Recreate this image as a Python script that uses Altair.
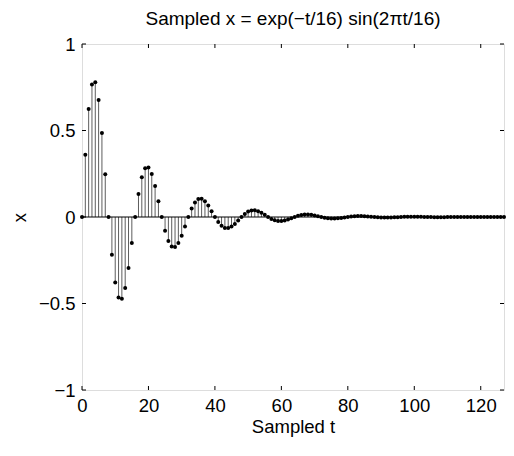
import altair as alt
import pandas as pd

# Sample index t = 0..127
t_values = list(range(128))

x_values = [
    0.0, 0.3595, 0.6240, 0.7659, 0.7788, 0.6759, 0.4860, 0.2471,
    0.0, -0.2180, -0.3785, -0.4646, -0.4724, -0.4100, -0.2948, -0.1499,
    0.0, 0.1323, 0.2296, 0.2818, 0.2865, 0.2487, 0.1788, 0.0909,
    0.0, -0.0802, -0.1392, -0.1709, -0.1738, -0.1508, -0.1085, -0.0551,
    0.0, 0.0487, 0.0844, 0.1037, 0.1054, 0.0915, 0.0658, 0.0334,
    0.0, -0.0295, -0.0512, -0.0629, -0.0639, -0.0555, -0.0399, -0.0203,
    0.0, 0.0179, 0.0311, 0.0381, 0.0388, 0.0337, 0.0242, 0.0123,
    0.0, -0.0109, -0.0188, -0.0231, -0.0235, -0.0204, -0.0147, -0.0075,
    0.0, 0.0066, 0.0114, 0.0140, 0.0143, 0.0124, 0.0089, 0.0045,
    0.0, -0.0040, -0.0069, -0.0085, -0.0087, -0.0075, -0.0054, -0.0028,
    0.0, 0.0024, 0.0042, 0.0052, 0.0053, 0.0046, 0.0033, 0.0017,
    0.0, -0.0015, -0.0026, -0.0031, -0.0032, -0.0028, -0.0020, -0.0010,
    0.0, 0.0009, 0.0016, 0.0019, 0.0019, 0.0017, 0.0012, 0.0006,
    0.0, -0.0005, -0.0009, -0.0012, -0.0012, -0.0010, -0.0007, -0.0004,
    0.0, 0.0003, 0.0006, 0.0007, 0.0007, 0.0006, 0.0004, 0.0002,
    0.0, -0.0002, -0.0004, -0.0004, -0.0004, -0.0004, -0.0003, -0.0001,
]

x_ticks = [0, 20, 40, 60, 80, 100, 120]
y_ticks = [-1, -0.5, 0, 0.5, 1]
x_domain = [0, 127]
y_domain = [-1, 1]

W, H = 422, 346
FONT = "Liberation Sans"
FS = 18.5
TL = 4  # inward tick length

df = pd.DataFrame({"t": t_values, "x": x_values})
xt = pd.DataFrame({"v": x_ticks})
yt = pd.DataFrame({"v": y_ticks})
base_line = pd.DataFrame({"a": [x_domain[0]], "b": [x_domain[1]], "z": [0]})

label_expr = "replace(toString(datum.value), '-', '\u2212')"

xscale = alt.Scale(domain=x_domain, nice=False, zero=False)
yscale = alt.Scale(domain=y_domain, nice=False, zero=False)

xaxis = alt.Axis(values=x_ticks, ticks=False, tickSize=0, domain=False, grid=False,
                 labelExpr=label_expr, labelPadding=6, labelFont=FONT, labelFontSize=FS,
                 labelColor="black", title="Sampled t", titleFont=FONT, titleFontSize=FS,
                 titleFontWeight="normal", titleColor="black", titlePadding=3,
                 labelFlush=False, labelOverlap=False)
yaxis = alt.Axis(values=y_ticks, ticks=False, tickSize=0, domain=False, grid=False,
                 labelExpr=label_expr, labelPadding=7, labelFont=FONT, labelFontSize=FS,
                 labelColor="black", title="x", titleFont=FONT, titleFontSize=FS,
                 titleFontWeight="normal", titleColor="black", titlePadding=9,
                 labelFlush=False, labelOverlap=False)

stems = alt.Chart(df).mark_rule(color="#333333", strokeWidth=0.8).encode(
    x=alt.X("t:Q", scale=xscale, axis=xaxis),
    y=alt.Y("x:Q", scale=yscale, axis=yaxis),
    y2=alt.datum(0),
)

baseline = alt.Chart(base_line).mark_rule(color="black", strokeWidth=1).encode(
    x=alt.X("a:Q", scale=xscale),
    x2="b:Q",
    y=alt.Y("z:Q", scale=yscale),
)

dots = alt.Chart(df).mark_circle(color="black", size=16, opacity=1).encode(
    x=alt.X("t:Q", scale=xscale),
    y=alt.Y("x:Q", scale=yscale),
)

tick_bottom = alt.Chart(xt).mark_rule(color="black", strokeWidth=1).encode(
    x=alt.X("v:Q", scale=xscale), y=alt.value(H), y2=alt.value(H - TL))
tick_top = alt.Chart(xt).mark_rule(color="black", strokeWidth=1).encode(
    x=alt.X("v:Q", scale=xscale), y=alt.value(0), y2=alt.value(TL))
tick_left = alt.Chart(yt).mark_rule(color="black", strokeWidth=1).encode(
    y=alt.Y("v:Q", scale=yscale), x=alt.value(0), x2=alt.value(TL))
tick_right = alt.Chart(yt).mark_rule(color="black", strokeWidth=1).encode(
    y=alt.Y("v:Q", scale=yscale), x=alt.value(W), x2=alt.value(W - TL))

chart = alt.layer(
    stems, baseline, dots, tick_bottom, tick_top, tick_left, tick_right
).properties(
    width=W,
    height=H,
    title=alt.TitleParams(
        "Sampled x = exp(\u2212t/16) sin(2\u03c0t/16)",
        font=FONT, fontSize=19, fontWeight="normal", color="black",
        anchor="middle", offset=6,
    ),
    autosize=alt.AutoSizeParams(type="none"),
    padding={"left": 74, "top": 36, "right": 2, "bottom": 50},
).configure_view(
    stroke="black", strokeWidth=1
).configure(background="white")

chart.save("out.html", embed_options={"renderer": "svg", "actions": False})
